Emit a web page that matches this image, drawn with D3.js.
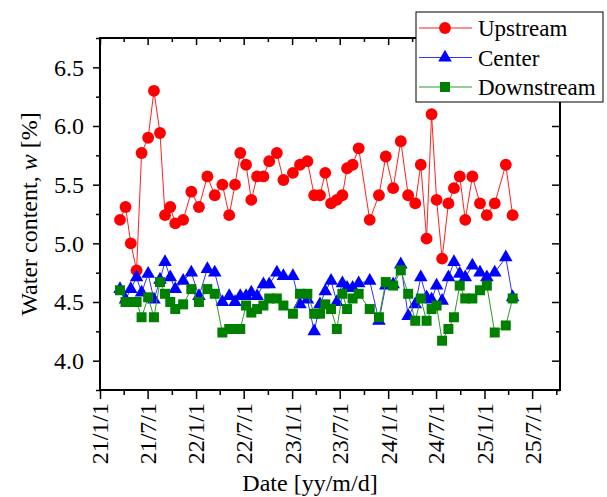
<!DOCTYPE html>
<html>
<head>
<meta charset="utf-8">
<script src="https://d3js.org/d3.v7.min.js"></script>
<style>
  body { margin: 0; background: #fff; }
  svg, svg text { font-family: "Liberation Serif", "Times New Roman", serif; }
</style>
</head>
<body>
<svg id="chart" width="607" height="497"></svg>
<script>
// measurement dates (same for all three points)
const dates = [
  "2021-03-18","2021-04-08","2021-04-28","2021-05-20","2021-06-08","2021-07-03","2021-07-25","2021-08-17",
  "2021-09-05","2021-09-25","2021-10-14","2021-11-13","2021-12-14","2022-01-12","2022-02-13","2022-03-13",
  "2022-04-11","2022-05-07","2022-05-29","2022-06-18","2022-07-10","2022-07-30","2022-08-21","2022-09-14",
  "2022-10-06","2022-11-04","2022-11-29","2023-01-04","2023-01-31","2023-02-28","2023-03-26","2023-04-17",
  "2023-05-07","2023-05-29","2023-06-20","2023-07-11","2023-07-29","2023-08-19","2023-09-11","2023-10-23",
  "2023-11-27","2023-12-23","2024-01-20","2024-02-18","2024-03-17","2024-04-13","2024-05-04","2024-05-26",
  "2024-06-14","2024-07-03","2024-07-24","2024-08-17","2024-09-07","2024-09-29","2024-10-20","2024-11-16",
  "2024-12-15","2025-01-10","2025-02-09","2025-03-23","2025-04-18"
];
const upstream = [
  5.20,5.31,5.00,4.77,5.77,5.90,6.30,5.94,5.24,5.31,5.17,5.20,5.44,5.31,5.57,5.41,
  5.50,5.24,5.50,5.77,5.67,5.37,5.57,5.57,5.70,5.77,5.54,5.60,5.67,5.70,5.41,5.41,
  5.60,5.34,5.37,5.41,5.64,5.67,5.81,5.20,5.41,5.74,5.47,5.87,5.41,5.34,5.67,5.04,
  6.10,5.37,4.87,5.34,5.47,5.57,5.20,5.57,5.34,5.24,5.34,5.67,5.24
];
const center = [
  4.61,4.52,4.61,4.71,4.58,4.74,4.52,4.69,4.84,4.71,4.61,4.68,4.75,4.55,4.78,4.75,
  4.50,4.55,4.50,4.55,4.55,4.58,4.55,4.65,4.65,4.75,4.72,4.72,4.48,4.52,4.25,4.48,
  4.59,4.68,4.50,4.66,4.62,4.62,4.66,4.68,4.34,4.64,4.65,4.82,4.38,4.48,4.71,4.54,
  4.52,4.64,4.51,4.71,4.84,4.74,4.71,4.81,4.75,4.71,4.75,4.88,4.54
];
const downstream = [
  4.60,4.50,4.50,4.50,4.37,4.54,4.37,4.67,4.57,4.50,4.44,4.48,4.61,4.50,4.61,4.57,
  4.24,4.27,4.27,4.27,4.47,4.41,4.44,4.47,4.53,4.53,4.47,4.40,4.57,4.57,4.40,4.40,
  4.48,4.44,4.27,4.57,4.44,4.53,4.57,4.44,4.37,4.67,4.64,4.77,4.57,4.34,4.53,4.34,
  4.44,4.47,4.17,4.27,4.37,4.64,4.53,4.53,4.60,4.64,4.24,4.30,4.53
];
const xTickLabels = ["21/1/1","21/7/1","22/1/1","22/7/1","23/1/1","23/7/1","24/1/1","24/7/1","25/1/1","25/7/1"];
const yTicks = [4.0, 4.5, 5.0, 5.5, 6.0, 6.5];
const seriesNames = ["Upstream", "Center", "Downstream"];

const parseDate = d3.timeParse("%Y-%m-%d");
const parseTick = d3.timeParse("%y/%m/%d");
const serif = '"Liberation Serif", "Times New Roman", serif';

const svg = d3.select("#chart");
const mLeft = 100, mRight = 560, mTop = 38, mBottom = 390;

const x = d3.scaleTime()
  .domain([parseDate("2021-01-01"), parseDate("2025-10-15")])
  .range([mLeft, mRight]);
const y = d3.scaleLinear().domain([3.75, 6.75]).range([mBottom, mTop]);

const majorX = xTickLabels.map(s => parseTick(s));
const minorX = d3.timeMonth.every(3).range(parseDate("2021-01-01"), parseDate("2025-10-16"))
  .filter(d => d.getMonth() % 6 !== 0);
const minorY = d3.range(3.75, 6.76, 0.5);

// ticks
function ticks(g) {
  g.attr("font-family", null).style("font-family", serif);
  g.select(".domain").remove();
  g.selectAll("line").attr("stroke", "#000").attr("stroke-width", 1.5);
  g.selectAll("text").style("font-family", serif);
}

svg.append("g").attr("transform", `translate(0,${mBottom})`)
  .call(d3.axisBottom(x).tickValues(majorX).tickSize(9).tickFormat((d, i) => xTickLabels[i]))
  .call(ticks)
  .call(g => g.selectAll("text")
    .attr("font-size", 24).attr("fill", "#000")
    .attr("transform", "rotate(-90)")
    .attr("text-anchor", "end")
    .attr("x", -13).attr("y", 0).attr("dy", "0.33em"));
svg.append("g").attr("transform", `translate(0,${mBottom})`)
  .call(d3.axisBottom(x).tickValues(minorX).tickSize(5).tickFormat(""))
  .call(ticks);
svg.append("g").attr("transform", `translate(0,${mTop})`)
  .call(d3.axisBottom(x).tickValues(majorX).tickSize(7).tickFormat(""))
  .call(ticks);
svg.append("g").attr("transform", `translate(0,${mTop})`)
  .call(d3.axisBottom(x).tickValues(minorX).tickSize(4).tickFormat(""))
  .call(ticks);

svg.append("g").attr("transform", `translate(${mLeft},0)`)
  .call(d3.axisLeft(y).tickValues(yTicks).tickSize(7).tickPadding(9).tickFormat(d3.format(".1f")))
  .call(ticks)
  .call(g => g.selectAll("text").attr("font-size", 24).attr("fill", "#000"));
svg.append("g").attr("transform", `translate(${mLeft},0)`)
  .call(d3.axisLeft(y).tickValues(minorY).tickSize(4).tickFormat(""))
  .call(ticks);
svg.append("g").attr("transform", `translate(${mRight},0)`)
  .call(d3.axisLeft(y).tickValues(yTicks).tickSize(8).tickFormat(""))
  .call(ticks);
svg.append("g").attr("transform", `translate(${mRight},0)`)
  .call(d3.axisLeft(y).tickValues(minorY).tickSize(4).tickFormat(""))
  .call(ticks);

// frame
svg.append("rect")
  .attr("x", mLeft).attr("y", mTop)
  .attr("width", mRight - mLeft).attr("height", mBottom - mTop)
  .attr("fill", "none").attr("stroke", "#000").attr("stroke-width", 2);

// series
const styles = [
  { values: upstream, color: "#ff0000", line: "#ff2020", shape: d3.symbolCircle, size: 110 },
  { values: center, color: "#0000ff", line: "#3030ff", shape: d3.symbolTriangle, size: 80 },
  { values: downstream, color: "#008000", line: "#2a9a2a", shape: d3.symbolSquare, size: 100 }
];
const pts = dates.map(parseDate);
const line = d3.line().x(d => x(d[0])).y(d => y(d[1]));

styles.forEach(s => {
  const data = pts.map((d, i) => [d, s.values[i]]);
  const g = svg.append("g");
  g.append("path").datum(data)
    .attr("d", line).attr("fill", "none")
    .attr("stroke", s.line).attr("stroke-width", 1);
  g.selectAll("path.m").data(data).enter().append("path")
    .attr("class", "m")
    .attr("d", d3.symbol().type(s.shape).size(s.size))
    .attr("transform", d => `translate(${x(d[0])},${y(d[1])})`)
    .attr("fill", s.color);
});

// axis titles
svg.append("text")
  .attr("x", 310).attr("y", 491)
  .attr("text-anchor", "middle").attr("font-size", 24)
  .text("Date [yy/m/d]");
const yt = svg.append("text")
  .attr("transform", `translate(37,${(mTop + mBottom) / 2}) rotate(-90)`)
  .attr("text-anchor", "middle").attr("font-size", 24);
yt.append("tspan").text("Water content, ");
yt.append("tspan").attr("font-style", "italic").text("w");
yt.append("tspan").text(" [%]");

// legend
const lg = svg.append("g").attr("transform", "translate(416,12)");
lg.append("rect").attr("width", 187).attr("height", 90)
  .attr("fill", "#fff").attr("stroke", "#000").attr("stroke-width", 1);
styles.forEach((s, i) => {
  const cy = 16 + i * 29.5;
  lg.append("line").attr("x1", 3).attr("x2", 56).attr("y1", cy).attr("y2", cy)
    .attr("stroke", s.line).attr("stroke-width", 1);
  lg.append("path")
    .attr("d", d3.symbol().type(s.shape).size(s.size))
    .attr("transform", `translate(29,${cy})`)
    .attr("fill", s.color);
  lg.append("text").attr("x", 62).attr("y", cy).attr("dy", "0.35em")
    .attr("font-size", 23).text(seriesNames[i]);
});
</script>
</body>
</html>
